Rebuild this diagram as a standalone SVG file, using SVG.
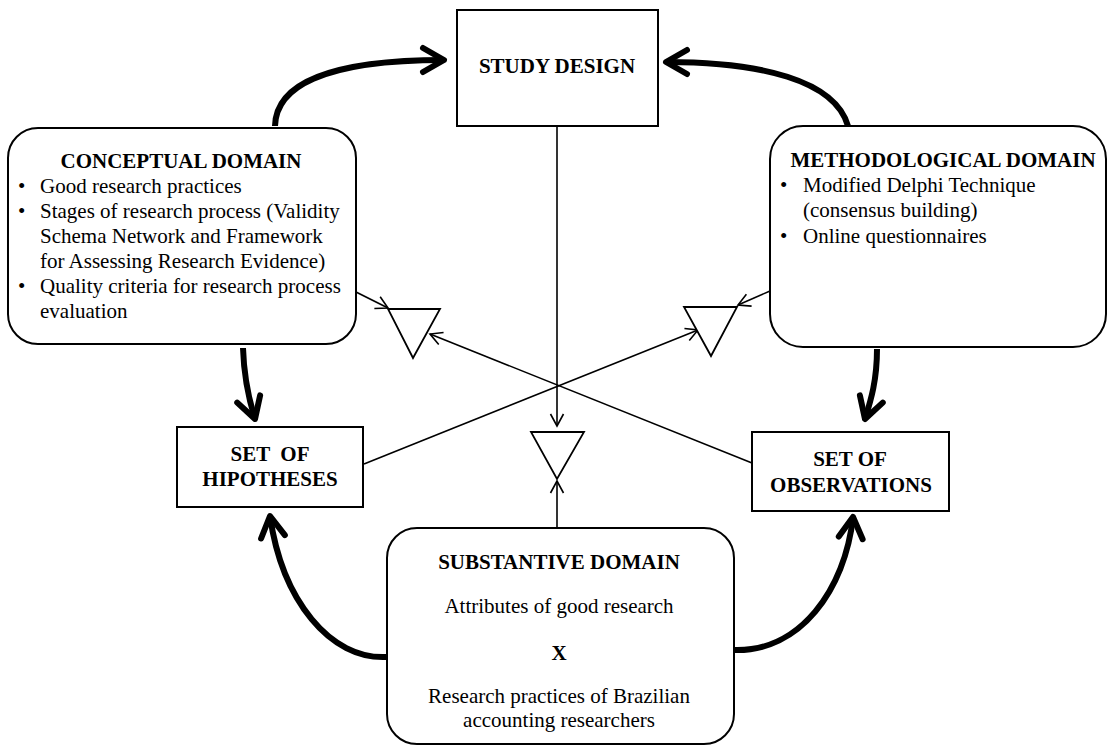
<svg xmlns="http://www.w3.org/2000/svg" width="1108" height="745" viewBox="0 0 1108 745">
<defs>
<style>
.box{fill:#fff;stroke:#000;stroke-width:2}
.t{font-family:"Liberation Serif","Times New Roman",serif;font-size:21px;fill:#000}
.b{font-weight:bold}
.m{text-anchor:middle}
.thin{fill:none;stroke:#000;stroke-width:1.6}
.thick{fill:none;stroke:#000;stroke-width:6}
.tri{fill:#fff;stroke:#000;stroke-width:1.8;stroke-linejoin:miter}
</style>
<marker id="ah" markerUnits="userSpaceOnUse" orient="auto" refX="0" refY="0" markerWidth="30" markerHeight="30" overflow="visible">
<path d="M-12,-6.5 L0,0 L-12,6.5" fill="none" stroke="#000" stroke-width="1.6"/>
</marker>
<marker id="AH" markerUnits="userSpaceOnUse" orient="auto" refX="0" refY="0" markerWidth="40" markerHeight="40" overflow="visible">
<path d="M-21,-12 L0,0 L-21,12" fill="none" stroke="#000" stroke-width="6" stroke-linecap="round" stroke-linejoin="round"/>
</marker>
</defs>
<rect width="1108" height="745" fill="#fff"/>

<g id="connectors">
<path class="thick" d="M275,126 C276,88 320,60 444,60" marker-end="url(#AH)"/>
<path class="thick" d="M848,126 C835,80 760,62 666,62" marker-end="url(#AH)"/>
<path class="thick" d="M243,348 C244,380 249,400 255,419" marker-end="url(#AH)"/>
<path class="thick" d="M877,349 C877,380 871,400 865,419" marker-end="url(#AH)"/>
<path class="thick" d="M387,657 C330,660 282,600 270,516" marker-end="url(#AH)"/>
<path class="thick" d="M734,650 C800,652 845,590 853,517" marker-end="url(#AH)"/>
<path class="thin" d="M557,126 L557,426" marker-end="url(#ah)"/>
<path class="thin" d="M557,528 L557,481" marker-end="url(#ah)"/>
<path class="thin" d="M364,464 L698,330" marker-end="url(#ah)"/>
<path class="thin" d="M752,463 L430,334" marker-end="url(#ah)"/>
<path class="thin" d="M356,292 L388,308" marker-end="url(#ah)"/>
<path class="thin" d="M770,291 L738,305" marker-end="url(#ah)"/>
<polygon class="tri" points="531,432 584,432 557,479"/>
<polygon class="tri" points="388,309 440,309 413,358"/>
<polygon class="tri" points="684,307 737,307 711,356"/>
</g>

<g id="study-design">
<rect class="box" x="457" y="10" width="201" height="116"/>
<text class="t b m" x="557" y="73">STUDY DESIGN</text>
</g>

<g id="conceptual-domain">
<rect class="box" x="8" y="128" width="348" height="216" rx="30"/>
<text class="t b m" x="181" y="168">CONCEPTUAL DOMAIN</text>
<text class="t" x="18" y="193">•</text>
<text class="t" x="40" y="193">Good research practices</text>
<text class="t" x="18" y="218">•</text>
<text class="t" x="40" y="218">Stages of research process (Validity</text>
<text class="t" x="40" y="243">Schema Network and Framework</text>
<text class="t" x="40" y="268">for Assessing Research Evidence)</text>
<text class="t" x="18" y="293">•</text>
<text class="t" x="40" y="293">Quality criteria for research process</text>
<text class="t" x="40" y="318">evaluation</text>
</g>

<g id="methodological-domain">
<rect class="box" x="770" y="126" width="336" height="221" rx="33"/>
<text class="t b m" x="943" y="167">METHODOLOGICAL DOMAIN</text>
<text class="t" x="780" y="192">•</text>
<text class="t" x="803" y="192">Modified Delphi Technique</text>
<text class="t" x="803" y="217">(consensus building)</text>
<text class="t" x="780" y="243">•</text>
<text class="t" x="803" y="243">Online questionnaires</text>
</g>

<g id="set-of-hipotheses">
<rect class="box" x="177" y="427" width="186" height="80"/>
<text class="t b m" x="270" y="461" style="white-space:pre">SET  OF</text>
<text class="t b m" x="270" y="486">HIPOTHESES</text>
</g>

<g id="set-of-observations">
<rect class="box" x="752" y="432" width="197" height="79"/>
<text class="t b m" x="850" y="466">SET OF</text>
<text class="t b m" x="851" y="492">OBSERVATIONS</text>
</g>

<g id="substantive-domain">
<rect class="box" x="387" y="528" width="347" height="216" rx="30"/>
<text class="t b m" x="559" y="569">SUBSTANTIVE DOMAIN</text>
<text class="t m" x="559" y="613">Attributes of good research</text>
<text class="t b m" x="559" y="660">X</text>
<text class="t m" x="559" y="703">Research practices of Brazilian</text>
<text class="t m" x="559" y="727">accounting researchers</text>
</g>
</svg>
